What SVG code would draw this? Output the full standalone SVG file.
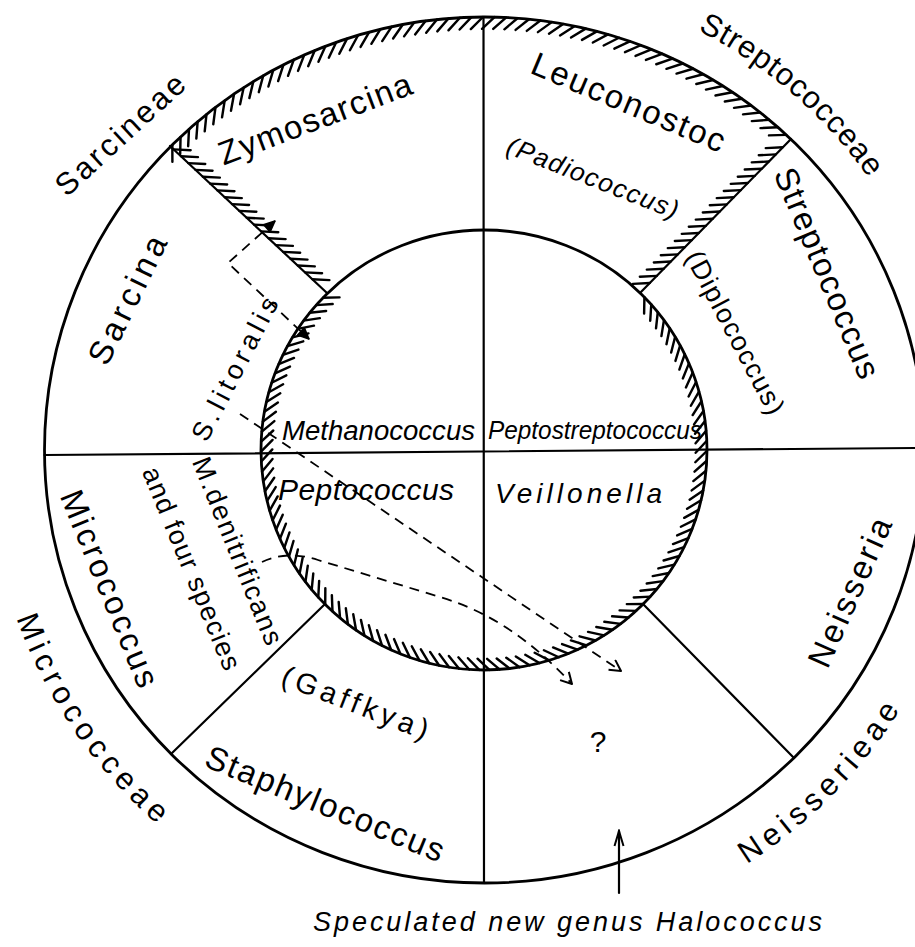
<svg xmlns="http://www.w3.org/2000/svg" width="915" height="947" viewBox="0 0 915 947">
<style>
  .rim{fill:none;stroke:#000;stroke-width:2.8}
  .ln{fill:none;stroke:#000;stroke-width:2.2;stroke-linecap:round}
  .tk{fill:none;stroke:#000;stroke-width:2.4;stroke-linecap:round}
  .dash{fill:none;stroke:#000;stroke-width:1.8;stroke-dasharray:10 7}
  text{font-family:"Liberation Sans",Arial,sans-serif;fill:#000}
  .lab{font-size:31px}
  .gen{font-size:33px}
  .it{font-style:italic}
</style>
<defs>
  <!-- inner circle hatch tick (drawn at the top, rotated into place) -->
  <path id="itk" class="tk" d="M0,-220l11.5,11.5"/>
  <g id="ih5"><use href="#itk"/><use href="#itk" transform="rotate(2.6)"/><use href="#itk" transform="rotate(5.2)"/><use href="#itk" transform="rotate(7.8)"/><use href="#itk" transform="rotate(10.4)"/></g>
  <g id="ih30"><use href="#ih5"/><use href="#ih5" transform="rotate(13)"/><use href="#ih5" transform="rotate(26)"/><use href="#ih5" transform="rotate(39)"/><use href="#ih5" transform="rotate(52)"/><use href="#ih5" transform="rotate(65)"/></g>
  <!-- outer rim hatch tick -->
  <path id="otk" class="tk" d="M0,-433l-12,12"/>
  <g id="oh5"><use href="#otk"/><use href="#otk" transform="rotate(1.5)"/><use href="#otk" transform="rotate(3)"/><use href="#otk" transform="rotate(4.5)"/><use href="#otk" transform="rotate(6)"/></g>
  <g id="oh30"><use href="#oh5"/><use href="#oh5" transform="rotate(7.5)"/><use href="#oh5" transform="rotate(15)"/><use href="#oh5" transform="rotate(22.5)"/><use href="#oh5" transform="rotate(30)"/><use href="#oh5" transform="rotate(37.5)"/></g>
  <!-- arcs for the tribe names -->
  <path id="pStrep" d="M697.8,30.3 A471,471 0 0 1 899.9,228.9"/>
  <path id="pMicro" d="M16.4,618.3 A497,497 0 0 0 198.9,857.1"/>
  <path id="pNeis" d="M746.8,864.1 A490.5,490.5 0 0 0 938.8,633.7"/>
  <marker id="ahV" viewBox="-13 -7 15 14" refX="0" refY="0" markerWidth="15" markerHeight="14" markerUnits="userSpaceOnUse" orient="auto">
    <path d="M-11,-6L0,0L-11,6" fill="none" stroke="#000" stroke-width="2" stroke-linejoin="round"/>
  </marker>
  <marker id="ahN" viewBox="-17 -6 19 12" refX="0" refY="0" markerWidth="19" markerHeight="12" markerUnits="userSpaceOnUse" orient="auto">
    <path d="M-15,-4.5L0,0L-15,4.5" fill="none" stroke="#000" stroke-width="2"/>
  </marker>
  <marker id="ahT" viewBox="-13 -7 15 14" refX="0" refY="0" markerWidth="15" markerHeight="14" markerUnits="userSpaceOnUse" orient="auto-start-reverse">
    <path d="M-11,-5L0,0L-11,5Z" fill="#000" stroke="#000" stroke-width="1.5" stroke-linejoin="round"/>
  </marker>
</defs>

<rect width="915" height="947" fill="#fff"/>

<!-- rings and dividing lines -->
<g id="frame">
  <ellipse class="rim" cx="484.5" cy="450" rx="440" ry="433"/>
  <ellipse class="rim" cx="484" cy="450" rx="223" ry="220"/>
  <path class="ln" d="M483.5,17L484,883"/>
  <path class="ln" d="M44.5,455L915,448"/>
  <path class="ln" d="M170,146L327,293"/>
  <path class="ln" d="M791,139L640,293"/>
  <path class="ln" d="M171,754L324,605"/>
  <path class="ln" d="M643,604L794,758"/>
</g>

<!-- hatched boundary -->
<g id="hatching">
  <g transform="translate(484.5,450) scale(1.016,1)">
    <use href="#oh30" transform="rotate(-45.2)"/>
    <use href="#oh30" transform="rotate(-0.2)"/>
  </g>
  <g transform="translate(484,450) scale(1.0136,1)">
    <use href="#ih30" transform="rotate(46)"/>
    <use href="#ih30" transform="rotate(124)"/>
    <use href="#ih30" transform="rotate(202)"/>
    <use href="#ih5" transform="rotate(280)"/>
    <use href="#ih5" transform="rotate(293)"/>
    <use href="#itk" transform="rotate(306)"/>
    <use href="#itk" transform="rotate(308.6)"/>
    <use href="#itk" transform="rotate(311.2)"/>
    <use href="#itk" transform="rotate(313.8)"/>
  </g>
  <path class="tk" transform="translate(170,146) rotate(43.1)" d="M5,0l13,-11m-3,11l13,-11m-3,11l13,-11m-3,11l13,-11m-3,11l13,-11m-3,11l13,-11m-3,11l13,-11m-3,11l13,-11m-3,11l13,-11m-3,11l13,-11m-3,11l13,-11m-3,11l13,-11m-3,11l13,-11m-3,11l13,-11m-3,11l13,-11m-3,11l13,-11m-3,11l13,-11m-3,11l13,-11m-3,11l13,-11m-3,11l13,-11"/>
  <path class="tk" transform="translate(640,293) rotate(-45.6)" d="M14,0l-12.5,-11.5m22.5,11.5l-12.5,-11.5m22.5,11.5l-12.5,-11.5m22.5,11.5l-12.5,-11.5m22.5,11.5l-12.5,-11.5m22.5,11.5l-12.5,-11.5m22.5,11.5l-12.5,-11.5m22.5,11.5l-12.5,-11.5m22.5,11.5l-12.5,-11.5m22.5,11.5l-12.5,-11.5m22.5,11.5l-12.5,-11.5m22.5,11.5l-12.5,-11.5m22.5,11.5l-12.5,-11.5m22.5,11.5l-12.5,-11.5m22.5,11.5l-12.5,-11.5m22.5,11.5l-12.5,-11.5m22.5,11.5l-12.5,-11.5m22.5,11.5l-12.5,-11.5m22.5,11.5l-12.5,-11.5m22.5,11.5l-12.5,-11.5"/>
</g>

<!-- dashed relationship arrows -->
<g id="connectors">
  <path class="dash" d="M275,221L228,263L309,339" marker-start="url(#ahT)" marker-end="url(#ahT)"/>
  <path class="dash" d="M240,414L621,671" marker-end="url(#ahV)"/>
  <path class="dash" d="M262,562Q287,550 318,560L440,597C500,615 540,650 572,684" marker-end="url(#ahV)"/>
  <path class="ln" d="M619,893L619,831" marker-end="url(#ahN)"/>
</g>

<!-- tribe names around the rim -->
<g id="tribe-sarcineae"><text class="lab" transform="translate(120.5,135) rotate(-42.5)" y="10" text-anchor="middle" textLength="164">Sarcineae</text></g>
<g id="tribe-streptococceae"><text class="lab"><textPath href="#pStrep" textLength="228">Streptococceae</textPath></text></g>
<g id="tribe-micrococceae"><text class="lab"><textPath href="#pMicro" textLength="252">Micrococceae</textPath></text></g>
<g id="tribe-neisserieae"><text class="lab"><textPath href="#pNeis" textLength="219">Neisserieae</textPath></text></g>

<!-- genera in the outer ring -->
<g id="zymosarcina"><text class="gen" transform="translate(315.5,120) rotate(-20.7)" y="10" text-anchor="middle" textLength="204">Zymosarcina</text></g>
<g id="sarcina">
  <text class="gen" transform="translate(128.5,300.5) rotate(-64)" y="10" text-anchor="middle" textLength="139">Sarcina</text>
  <text font-size="27" transform="translate(235,369) rotate(-62.7)" y="9" text-anchor="middle" textLength="158">S.litoralis</text>
</g>
<g id="leuconostoc">
  <text class="gen" transform="translate(628,103.5) rotate(22.8)" y="10" text-anchor="middle" textLength="207">Leuconostoc</text>
  <text class="it" font-size="26" transform="translate(592.5,178.5) rotate(21.4)" y="8" text-anchor="middle" textLength="182">(Padiococcus)</text>
</g>
<g id="streptococcus">
  <text class="gen" transform="translate(826,273.5) rotate(67.3)" y="10" text-anchor="middle" textLength="225">Streptococcus</text>
  <text font-size="27" transform="translate(735,332.5) rotate(62.1)" y="9" text-anchor="middle" textLength="181">(Diplococcus)</text>
</g>
<g id="micrococcus">
  <text class="gen" transform="translate(108.5,589) rotate(67.7)" y="10" text-anchor="middle" textLength="210">Micrococcus</text>
  <text font-size="27" transform="translate(237.5,551) rotate(68.1)" y="9" text-anchor="middle" textLength="200">M.denitrificans</text>
  <text font-size="27" transform="translate(191.5,568.5) rotate(67.6)" y="9" text-anchor="middle" textLength="217">and four species</text>
</g>
<g id="staphylococcus">
  <text font-size="29" transform="translate(355,703.5) rotate(21.3)" y="9" text-anchor="middle" textLength="155">(Gaffkya)</text>
  <text class="gen" transform="translate(324.5,805) rotate(22.3)" y="10" text-anchor="middle" textLength="255">Staphylococcus</text>
</g>
<g id="unknown"><text font-size="30" x="598" y="752" text-anchor="middle">?</text></g>
<g id="neisseria"><text class="gen" transform="translate(851,593) rotate(-65.9)" y="10" text-anchor="middle" textLength="160">Neisseria</text></g>

<!-- genera in the inner circle -->
<g id="methanococcus"><text class="it" font-size="27" x="282" y="440" textLength="193" lengthAdjust="spacingAndGlyphs">Methanococcus</text></g>
<g id="peptostreptococcus"><text class="it" font-size="25" x="488" y="439" textLength="214" lengthAdjust="spacingAndGlyphs">Peptostreptococcus</text></g>
<g id="peptococcus"><text class="it" font-size="30" x="278" y="500" textLength="176">Peptococcus</text></g>
<g id="veillonella"><text class="it" font-size="28" x="495" y="503" textLength="167">Veillonella</text></g>

<g id="halococcus-note"><text class="it" font-size="27" x="313" y="931" textLength="509">Speculated new genus Halococcus</text></g>
</svg>
